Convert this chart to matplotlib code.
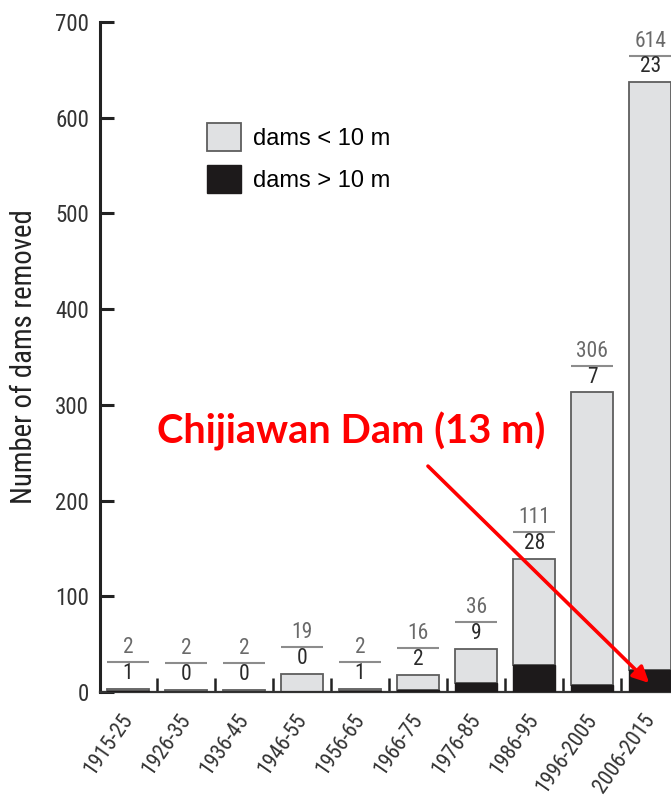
import matplotlib
matplotlib.use("Agg")
import matplotlib.pyplot as plt
import matplotlib.font_manager as fm

# Data
periods = ['1915-25', '1926-35', '1936-45', '1946-55', '1956-65',
           '1966-75', '1976-85', '1986-95', '1996-2005', '2006-2015']
small_dams = [2, 2, 2, 19, 2, 16, 36, 111, 306, 614]   # dams < 10 m
large_dams = [1, 0, 0, 0, 1, 2, 9, 28, 7, 23]          # dams > 10 m


def pick_narrow():
    # the original uses an Arial Narrow look; take a narrow face if there is one
    names = {f.name for f in fm.fontManager.ttflist}
    for n in ['Liberation Sans Narrow', 'Arial Narrow', 'Roboto Condensed',
              'Open Sans Condensed', 'Noto Sans Condensed']:
        if n in names:
            return n, 'normal', 1.0
    for f in fm.fontManager.ttflist:
        if f.stretch in ('condensed', 'semi-condensed') and f.style == 'normal' \
                and 'Mono' not in f.name and 'Serif' not in f.name:
            return f.name, f.stretch, 0.95
    return 'Liberation Sans', 'normal', 0.82


NARROW, STRETCH, K = pick_narrow()
GRAY = '#e0e1e3'
BLACK = '#1d1a1b'

fig = plt.figure(figsize=(6.71, 7.98), dpi=100)
ax = fig.add_axes([100 / 671, 106 / 798, 1 - 100 / 671 + 0.002, 670 / 798])

x = list(range(len(periods)))
w = 0.73
totals = [s + l for s, l in zip(small_dams, large_dams)]

h_large = ax.bar(x, large_dams, width=w, color=BLACK, edgecolor=BLACK, lw=1.0,
                 label='dams > 10 m', zorder=3)
h_small = ax.bar(x, small_dams, width=w, bottom=large_dams, color=GRAY,
                 edgecolor='#5e5e5e', lw=1.3, label='dams < 10 m', zorder=2)

# fraction-style labels above each bar
for xi, s, l, t in zip(x, small_dams, large_dams, totals):
    ax.text(xi, t + 16, str(l), ha='center', va='center', fontsize=15.5 * K,
            family=NARROW, fontstretch=STRETCH, color='#2a2a2a')
    ax.hlines(t + 28, xi - w / 2, xi + w / 2, color='#8c8c8c', lw=1.5)
    ax.text(xi, t + 43, str(s), ha='center', va='center', fontsize=15.5 * K,
            family=NARROW, fontstretch=STRETCH, color='#6a6a6a')

ax.set_ylim(0, 700)
ax.set_xlim(-0.48, 9.38)
ax.set_yticks(range(0, 701, 100))
# major ticks carry only the rotated labels (no marks), nudged right a little
ax.set_xticks([xi + 0.16 for xi in x])
ax.set_xticklabels(periods, rotation=55, ha='right', va='top', family=NARROW,
                   fontstretch=STRETCH, fontsize=15.6 * K, color='#333333')
for lab in ax.get_yticklabels():
    lab.set_family(NARROW)
    lab.set_fontstretch(STRETCH)
    lab.set_fontsize(16.5 * K)
    lab.set_color('#333333')

ax.set_xticks([i + 0.5 for i in range(len(periods) - 1)], minor=True)
ax.tick_params(axis='x', which='major', length=0, pad=13)
ax.tick_params(axis='x', which='minor', direction='in', length=10, width=1.8, color='#222222')
ax.tick_params(axis='y', direction='in', length=10, width=2.2, pad=8, color='#222222')

ax.spines['top'].set_visible(False)
ax.spines['right'].set_visible(False)
ax.spines['left'].set_linewidth(2.2)
ax.spines['left'].set_color('#222222')
ax.spines['bottom'].set_linewidth(1.6)
ax.spines['bottom'].set_color('#333333')

ax.set_ylabel('Number of dams removed', family=NARROW, fontstretch=STRETCH,
              fontsize=20.7 * K, color='#222222', labelpad=12)

ax.legend([h_small, h_large], ['dams < 10 m', 'dams > 10 m'], loc='upper left',
          bbox_to_anchor=(0.187, 0.849), frameon=False,
          prop={'family': 'Liberation Sans', 'size': 17},
          handlelength=1.44, handleheight=1.44, handletextpad=0.5,
          labelspacing=0.6, borderpad=0, borderaxespad=0)

# annotation for Chijiawan Dam
ax.text(0.5, 272, 'Chijiawan Dam (13 m)', color='#ff0000', fontsize=28.7,
        fontweight='bold', family=['Lato', 'DejaVu Sans'], ha='left', va='center')
ax.annotate('', xy=(8.98, 9.4), xytext=(5.17, 236),
            arrowprops=dict(arrowstyle='-|>', color='#ff0000', lw=2.6,
                            mutation_scale=24, shrinkA=0, shrinkB=0), zorder=5)

fig.savefig('out.png', dpi=100)
